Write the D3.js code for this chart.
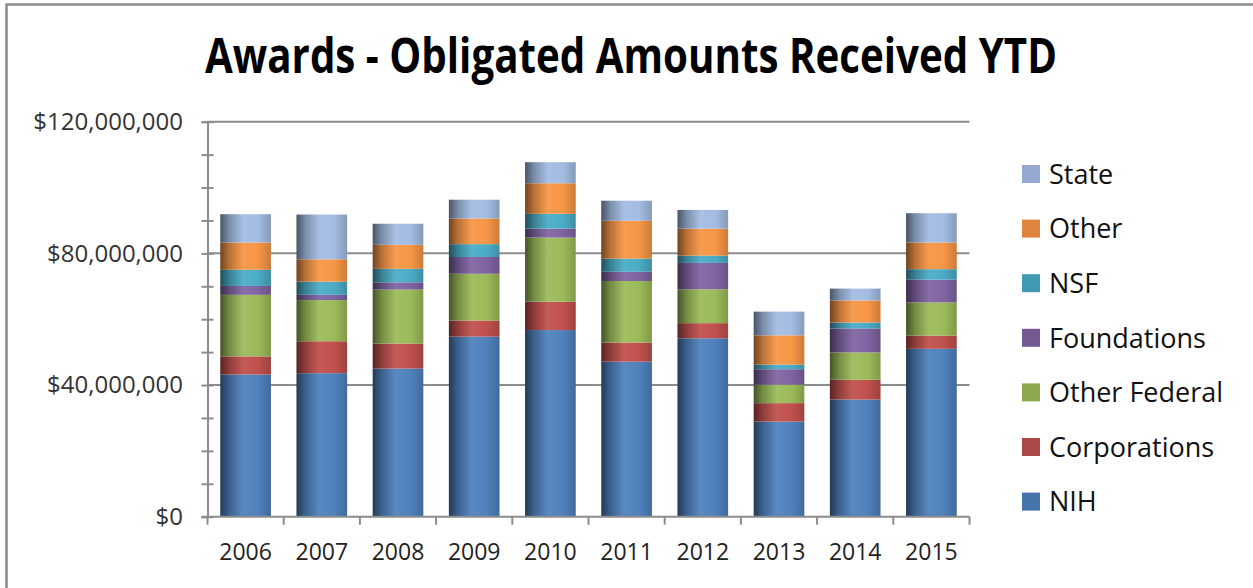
<!DOCTYPE html>
<html>
<head>
<meta charset="utf-8">
<script src="https://cdn.jsdelivr.net/npm/d3@7"></script>
<style>
  body { margin: 0; background: #fff; }
  svg { display: block; font-family: 'Open Sans', sans-serif; }
</style>
</head>
<body>
<div id="chart"></div>
<script>
const width = 1253;
const height = 588;

// data, millions of dollars
const years = ['2006', '2007', '2008', '2009', '2010', '2011', '2012', '2013', '2014', '2015'];
const seriesNames = ['NIH', 'Corporations', 'Other Federal', 'Foundations', 'NSF', 'Other', 'State'];
const nih = [43.2, 43.6, 45.0, 54.7, 56.7, 47.1, 54.2, 28.9, 35.6, 51.0];
const corporations = [5.5, 9.7, 7.6, 4.9, 8.6, 5.8, 4.6, 5.6, 6.0, 4.0];
const otherFederal = [18.7, 12.5, 16.4, 14.2, 19.5, 18.7, 10.3, 5.6, 8.3, 10.1];
const foundations = [2.7, 1.6, 2.2, 5.1, 2.7, 2.8, 8.0, 4.7, 7.3, 6.9];
const nsf = [4.9, 4.0, 4.1, 3.9, 4.5, 4.0, 2.2, 1.4, 1.8, 3.2];
const other = [8.3, 6.8, 7.3, 7.8, 9.3, 11.5, 8.2, 8.9, 6.7, 8.1];
const stateAwards = [8.6, 13.6, 6.4, 5.7, 6.4, 6.1, 5.7, 7.2, 3.6, 8.9];
const yTicks = [0, 40e6, 80e6, 120e6];

const seriesValues = [nih, corporations, otherFederal, foundations, nsf, other, stateAwards];
const colors = ['#4F81BD', '#C0504D', '#9BBB59', '#8064A2', '#4BACC6', '#F79646', '#A3BCE2'];
const legendColors = ['#4674AB', '#AC4845', '#8CA94F', '#745A93', '#419AB1', '#DF853F', '#95A9D0'];

const table = years.map((y, i) => {
  const row = { year: y };
  seriesNames.forEach((s, j) => { row[s] = seriesValues[j][i] * 1e6; });
  return row;
});

const margin = { left: 207.5, right: 969.5, top: 121.7, bottom: 516.7 };

const svg = d3.select('#chart').append('svg')
  .attr('width', width)
  .attr('height', height);

// outer frame of the chart area
svg.append('rect')
  .attr('x', 6.5)
  .attr('y', 4.5)
  .attr('width', 1300)
  .attr('height', 700)
  .attr('fill', 'none')
  .attr('stroke', '#8c8c8c')
  .attr('stroke-width', 2.5);

const x = d3.scaleBand()
  .domain(years)
  .range([margin.left, margin.right])
  .paddingInner(0.335)
  .paddingOuter(0.1675);

const y = d3.scaleLinear()
  .domain([0, 120e6])
  .range([margin.bottom, margin.top]);

// cylinder-like shading for each series
const defs = svg.append('defs');
colors.forEach((c, i) => {
  const base = d3.color(c);
  const g = defs.append('linearGradient')
    .attr('id', 'grad' + i)
    .attr('x1', '0%').attr('x2', '100%')
    .attr('y1', '0%').attr('y2', '0%');
  g.append('stop').attr('offset', '0%').attr('stop-color', d3.interpolateRgb(base, '#000')(0.55));
  g.append('stop').attr('offset', '18%').attr('stop-color', d3.interpolateRgb(base, '#000')(0.25));
  g.append('stop').attr('offset', '45%').attr('stop-color', d3.interpolateRgb(base, '#fff')(0.06));
  g.append('stop').attr('offset', '75%').attr('stop-color', base.formatHex());
  g.append('stop').attr('offset', '100%').attr('stop-color', d3.interpolateRgb(base, '#000')(0.18));
});

// gridlines
svg.append('g')
  .selectAll('line')
  .data(yTicks.filter(d => d > 0))
  .enter()
  .append('line')
  .attr('x1', margin.left)
  .attr('x2', margin.right)
  .attr('y1', d => y(d))
  .attr('y2', d => y(d))
  .attr('stroke', '#8c8c8c')
  .attr('stroke-width', 2);

// stacked bars
const stack = d3.stack().keys(seriesNames);
const layers = stack(table);

svg.append('g')
  .selectAll('g')
  .data(layers)
  .enter()
  .append('g')
  .attr('fill', (d, i) => 'url(#grad' + i + ')')
  .selectAll('rect')
  .data(d => d)
  .enter()
  .append('rect')
  .attr('x', d => x(d.data.year))
  .attr('width', x.bandwidth())
  .attr('y', d => y(d[1]))
  .attr('height', d => y(d[0]) - y(d[1]));

// y axis with minor ticks every $10M
const yAxis = d3.axisLeft(y)
  .tickValues(d3.range(0, 120e6 + 1, 10e6))
  .tickSize(6)
  .tickFormat('');

const yg = svg.append('g')
  .attr('transform', `translate(${margin.left},0)`)
  .call(yAxis);
yg.select('.domain').attr('stroke', '#8c8c8c').attr('stroke-width', 2);
yg.selectAll('.tick line')
  .attr('x1', -6)
  .attr('x2', 6)
  .attr('stroke', '#8c8c8c')
  .attr('stroke-width', 2);

svg.append('g')
  .selectAll('text')
  .data(yTicks)
  .enter()
  .append('text')
  .attr('x', 183)
  .attr('y', d => y(d))
  .attr('dy', '0.35em')
  .attr('text-anchor', 'end')
  .attr('fill', '#333')
  .style('font-size', '24px')
  .text(d => d3.format('$,')(d));

// x axis
const xg = svg.append('g')
  .attr('transform', `translate(0,${margin.bottom})`);
xg.append('line')
  .attr('x1', margin.left - 6)
  .attr('x2', margin.right)
  .attr('stroke', '#8c8c8c')
  .attr('stroke-width', 2);
xg.selectAll('.xtick')
  .data(d3.range(years.length + 1))
  .enter()
  .append('line')
  .attr('x1', i => margin.left + i * x.step())
  .attr('x2', i => margin.left + i * x.step())
  .attr('y1', 0)
  .attr('y2', 8)
  .attr('stroke', '#8c8c8c')
  .attr('stroke-width', 2);
xg.selectAll('text')
  .data(years)
  .enter()
  .append('text')
  .attr('x', d => x(d) + x.bandwidth() / 2)
  .attr('y', 43)
  .attr('text-anchor', 'middle')
  .attr('fill', '#222')
  .style('font-size', '23px')
  .text(d => d);

// title
svg.append('text')
  .attr('x', 631)
  .attr('y', 73)
  .attr('text-anchor', 'middle')
  .attr('textLength', 852)
  .attr('lengthAdjust', 'spacingAndGlyphs')
  .style('font-size', '48px')
  .style('font-weight', 'bold')
  .attr('fill', '#000')
  .text('Awards - Obligated Amounts Received YTD');

// legend, top to bottom in reverse stack order
const legendOrder = d3.range(seriesNames.length).reverse();
const legend = svg.append('g')
  .selectAll('g')
  .data(legendOrder)
  .enter()
  .append('g')
  .attr('transform', (d, i) => `translate(1022,${174 + i * 54.6})`);

legend.append('rect')
  .attr('x', 0)
  .attr('y', -9)
  .attr('width', 18)
  .attr('height', 18)
  .attr('fill', d => legendColors[d]);

legend.append('text')
  .attr('x', 27)
  .attr('y', 0)
  .attr('dy', '0.36em')
  .attr('fill', '#111')
  .style('font-size', '27px')
  .text(d => seriesNames[d]);
</script>
</body>
</html>
